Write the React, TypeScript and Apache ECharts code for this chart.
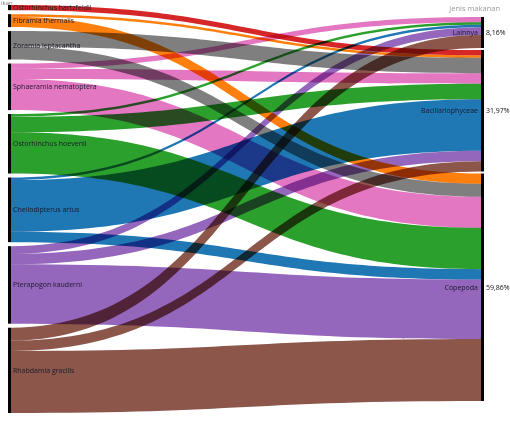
import React, { useEffect, useRef } from "react";
import * as echarts from "echarts";

const species = [
  "Ostorhinchus hartzfeldii",
  "Fibramia thermalis",
  "Zoramia leptacantha",
  "Sphaeramia nematoptera",
  "Ostorhinchus hoevenii",
  "Cheilodipterus artus",
  "Pterapogon kauderni",
  "Rhabdamia gracilis",
];
const speciesColors = [
  "#d62728",
  "#ff7f0e",
  "#7f7f7f",
  "#e377c2",
  "#2ca02c",
  "#1f77b4",
  "#9467bd",
  "#8c564b",
];
const foods = ["Lainnya", "Bacillariophyceae", "Copepoda"];
const toLainnya = [0, 0, 0, 2, 1, 1, 3, 5];
const toBacillariophyceae = [2, 1, 6, 4, 6, 20, 4, 4];
const toCopepoda = [0, 4, 5, 12, 16, 4, 23, 24];

const FONT = "'Open Sans', 'Noto Sans', sans-serif";

export default function App() {
  const ref = useRef<HTMLDivElement>(null);
  useEffect(() => {
    if (!ref.current) return;
    const chart = echarts.init(ref.current, undefined, { renderer: "svg" });
    const flows = [toLainnya, toBacillariophyceae, toCopepoda];
    const total = flows.reduce((s, a) => s + a.reduce((x, y) => x + y, 0), 0);
    const foodTotals = flows.map((a) => a.reduce((x, y) => x + y, 0));
    const pct = (i: number) =>
      ((foodTotals[i] / total) * 100).toFixed(2).replace(".", ",") + "%";

    const top = 5;
    const bottom = 8;
    const leftGap = 4;
    const rightGap = 2;
    const H = 421 - top - bottom;
    const ky = (H - (species.length - 1) * leftGap) / total;
    const rightSpan = total * ky + (foods.length - 1) * rightGap;
    const offset = (H - rightSpan) / 2;
    const foodLocalY: number[] = [];
    let acc = offset;
    foodTotals.forEach((v) => {
      foodLocalY.push(acc / H);
      acc += v * ky + rightGap;
    });

    const links: any[] = [];
    flows.forEach((arr, fi) => {
      arr.forEach((v, si) => {
        if (v > 0)
          links.push({
            source: species[si],
            target: foods[fi],
            value: v,
            lineStyle: { color: speciesColors[si], opacity: 1 },
          });
      });
    });

    const base = {
      type: "sankey",
      left: 8,
      top,
      right: 26,
      bottom,
      nodeWidth: 3,
      nodeGap: leftGap,
      draggable: false,
      layoutIterations: 0,
      emphasis: { disabled: true },
      lineStyle: { curveness: 0.5 },
    };

    const nodesMain = [
      ...species.map((n) => ({
        name: n,
        label: { position: "right", distance: 2 },
      })),
      ...foods.map((n, i) => ({
        name: n,
        localY: foodLocalY[i],
        label: { position: "left", distance: 3 },
      })),
    ];
    const nodesPct = [
      ...species.map((n) => ({ name: n, label: { show: false } })),
      ...foods.map((n, i) => ({
        name: n,
        localY: foodLocalY[i],
        label: {
          show: true,
          position: "right",
          distance: 2,
          formatter: () => pct(i),
        },
      })),
    ];

    chart.setOption({
      animation: false,
      title: [
        {
          text: "ikan",
          left: 1,
          top: 0,
          padding: 0,
          textStyle: { fontSize: 6, color: "#777", fontWeight: "normal", fontFamily: FONT },
        },
        {
          text: "jenis makanan",
          right: 10,
          top: 4,
          padding: 0,
          textStyle: { fontSize: 7.5, color: "#999", fontWeight: "normal", fontFamily: FONT },
        },
      ],
      series: [
        {
          ...base,
          data: nodesMain,
          links,
          itemStyle: { color: "#000", borderWidth: 0 },
          label: { fontSize: 7, color: "#1a1a2a", fontFamily: FONT },
        },
        {
          ...base,
          silent: true,
          data: nodesPct,
          links: links.map((l) => ({ ...l, lineStyle: { opacity: 0 } })),
          itemStyle: { opacity: 0, borderWidth: 0 },
          lineStyle: { opacity: 0 },
          label: { fontSize: 7, color: "#111", fontFamily: FONT },
        },
      ],
    });
    return () => chart.dispose();
  }, []);
  return (
    <>
      <style>{`.sk path { mix-blend-mode: multiply; }`}</style>
      <div
        ref={ref}
        className="sk"
        style={{ position: "absolute", left: 0, top: 0, width: 510, height: 421, background: "#fff" }}
      />
    </>
  );
}
